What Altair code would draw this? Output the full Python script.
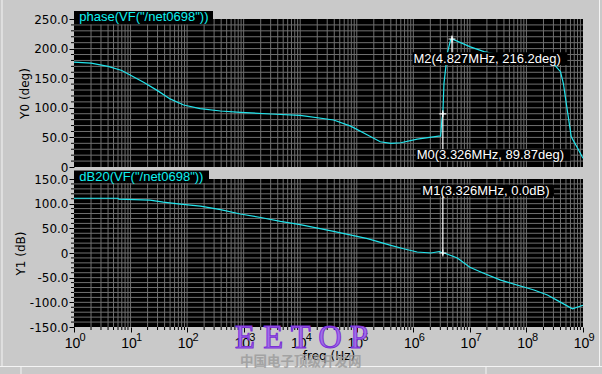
import altair as alt
import pandas as pd

# ---------------- data ----------------
phase_freq = [1, 2, 4, 7, 10, 17, 30, 50, 87, 170, 390, 880, 3.0e3, 1.0e4, 3.9e4,
              7.8e4, 1.55e5, 2.6e5, 4.0e5, 6.0e5, 1.17e6, 2.8e6, 3.04e6, 3.2e6, 3.326e6,
              3.48e6, 3.99e6, 4.57e6, 4.827e6, 1.02e7, 1.78e7, 5.0e7, 1.5e8, 3.1e8, 4.0e8,
              4.5e8, 5.2e8, 6.2e8, 7.0e8, 8.0e8, 1.0e9]
phase_deg = [177, 175.5, 170, 163, 155, 143, 129, 115, 104.7, 98.5, 94.6, 92.4, 89.5, 87.3, 79.4,
             69, 54, 42.7, 40, 41, 47, 52, 52, 80, 89.87,
             141, 192, 215, 216.2, 203, 195, 186, 178, 173, 161,
             141, 100, 51, 42, 32, 14.7]

db_freq = [1, 6.0, 6.2, 22, 38, 76, 172, 390, 870, 2.0e3, 4.47e3, 1.0e4, 3.9e4, 1.55e5, 4.0e5,
           6.7e5, 1.17e6, 2.04e6, 2.9e6, 3.326e6, 3.7e6, 6.0e6, 1.0e7, 1.67e7, 3.5e7,
           1.36e8, 2.35e8, 3.5e8, 6.5e8, 1.0e9]
db_val = [111, 111, 109.3, 107, 103, 99, 95, 88, 79, 72, 64, 57.5, 43.7, 29, 15.4,
          8.7, 2, 0, 3, 0, -1, -10, -29, -40, -55,
          -75, -85, -96, -113, -106]

marker_names = ["M0", "M2", "M1"]
marker_panel = ["phase", "phase", "db"]
marker_freq = [3.326e6, 4.827e6, 3.326e6]
marker_value = [89.87, 216.2, 0.0]
marker_label = ["M0(3.326MHz, 89.87deg)", "M2(4.827MHz, 216.2deg)", "M1(3.326MHz, 0.0dB)"]

panel_titles = ['phase(VF("/net0698"))', 'dB20(VF("/net0698"))']
y_titles = ["Y0 (deg)", "Y1 (dB)"]
x_title = "freq (Hz)"
phase_domain = [0, 250]
db_domain = [-150, 150]
phase_major = [0, 50, 100, 150, 200, 250]
db_major = [-150, -100, -50, 0, 50, 100, 150]
decades = [1, 10, 100, 1e3, 1e4, 1e5, 1e6, 1e7, 1e8, 1e9]
decade_exp = ["0", "1", "2", "3", "4", "5", "6", "7", "8", "9"]
watermark_latin = "E E T O P"
watermark_cjk = "中国电子顶级开发网"

# ---------------- layout / style ----------------
W, H = 509, 308
TOP_RANGE = [148, 0]
BOT_RANGE = [308, 160]
BG = "#c9c9c9"
GRID = "#707070"
TRACE = "#22e4ec"
TITLE_CYAN = "#10f0f0"
LBL_FONT = "DejaVu Sans"
TXT_FONT = "Liberation Sans"

MARK_STYLE = {
    "M0": dict(line=(-2, 36), box=(-27.2, 127.8, 35.5, 46.9), text=(-26.2, 45.2)),
    "M2": dict(line=(-2.5, 14), box=(-39.6, 115.4, 13.3, 26.0), text=(-38.6, 24.3)),
    "M1": dict(line=(-58.3, 2), box=(-22.2, 111.1, -68.3, -56.6), text=(-20.5, -58.3)),
}
TITLE_STYLE = [
    dict(box=(0, 139, -8, 5.3), text=(5.3, 2.3)),
    dict(box=(0, 135, -8.6, 4.0), text=(5.3, 1.7)),
]
# frame lines of the surrounding window, pixels relative to plot origin
FRAME_LINES = [(-72, -72, -19, 347.5), (-74, 528, 347.5, 347.5),
               (-53, -53, 347.5, 355), (412, 412, 347.5, 355), (525.5, 525.5, -19, 347.5)]
WM_POS = (161, 329.3)
CJK_POS = (166, 346.5)

xscale = alt.Scale(type="log", domain=[1, 1e9], nice=False)
x_minor = [m * 10 ** k for k in range(9) for m in range(2, 10)]
x_grid = [v for v in x_minor] + [d for d in decades[1:-1]]


def y_label_expr():
    return ("datum.value == 0 ? '0' : (datum.value < 0 ? '-' + format(-datum.value, '.1f') "
            ": format(datum.value, '.1f'))")


def panel(df_line, yfield, domain, yrange, major, ytitle, title_text, tstyle, mk_idx, xaxis):
    ymin, ymax = domain
    ys = alt.Scale(domain=domain, range=yrange, nice=False, zero=False)
    one = pd.DataFrame({"k": [0]})

    def Xd(v):
        return alt.XDatum(v, scale=xscale, type="quantitative", axis=None)

    def Yd(v):
        return alt.YDatum(v, scale=ys, type="quantitative", axis=None)

    xf = alt.X("f:Q", scale=xscale, axis=None)
    layers = []
    layers.append(alt.Chart(one).mark_rect(color="black").encode(
        x=Xd(1), x2=alt.X2Datum(1e9), y=Yd(ymin), y2=alt.Y2Datum(ymax)))
    hvals = [v for v in range(ymin + 10, ymax, 10)]
    layers.append(alt.Chart(pd.DataFrame({"v": hvals})).mark_rule(color=GRID, strokeWidth=1).encode(
        x=Xd(1), x2=alt.X2Datum(1e9), y=alt.Y("v:Q", scale=ys, axis=None)))
    layers.append(alt.Chart(pd.DataFrame({"f": x_grid})).mark_rule(color=GRID, strokeWidth=1).encode(
        x=xf, y=Yd(ymin), y2=alt.Y2Datum(ymax)))
    yminor = [v for v in range(ymin, ymax + 1, 10) if v % 50 != 0]
    layers.append(alt.Chart(pd.DataFrame({"v": yminor})).mark_rule(
        color="black", xOffset=-3, x2Offset=0).encode(
        x=Xd(1), x2=alt.X2Datum(1), y=alt.Y("v:Q", scale=ys, axis=None)))

    yaxis = alt.Axis(values=major, labelExpr=y_label_expr(), tickSize=5, tickColor="black",
                     tickWidth=1, domain=False, grid=False, labelFont=LBL_FONT, labelFontSize=12,
                     labelColor="black", labelPadding=1, labelOverlap=False, labelFlush=False,
                     labelBaseline="middle", title=ytitle, titleFont=LBL_FONT, titleFontSize=12,
                     titleFontWeight="normal", titleColor="black", titlePadding=2, orient="left")
    layers.append(alt.Chart(df_line).mark_line(color=TRACE, strokeWidth=1.2).encode(
        x=alt.X("f:Q", scale=xscale, axis=xaxis),
        y=alt.Y(f"{yfield}:Q", scale=ys, axis=yaxis)))

    for i in mk_idx:
        st = MARK_STYLE[marker_names[i]]
        df = pd.DataFrame({"f": [marker_freq[i]], "v": [marker_value[i]], "label": [marker_label[i]]})
        base = alt.Chart(df)
        yv = alt.Y("v:Q", scale=ys, axis=None)
        layers.append(base.mark_rule(color="white", strokeWidth=1.2, yOffset=st["line"][0],
                                     y2Offset=st["line"][1]).encode(x=xf, y=yv, y2="v:Q"))
        layers.append(base.mark_point(shape="M-1,0H1M0,-1V1", size=49, filled=False, color="white",
                                      strokeWidth=1.2, opacity=1).encode(x=xf, y=yv))
        b = st["box"]
        layers.append(base.mark_rect(color="black", xOffset=b[0], x2Offset=b[1], yOffset=b[2],
                                     y2Offset=b[3]).encode(x=xf, x2="f:Q", y=yv, y2="v:Q"))
        layers.append(base.mark_text(align="left", baseline="alphabetic", dx=st["text"][0],
                                     dy=st["text"][1], color="white", font=TXT_FONT,
                                     fontSize=13).encode(x=xf, y=yv, text="label:N"))

    tb = tstyle["box"]
    tdf = pd.DataFrame({"t": [title_text]})
    layers.append(alt.Chart(tdf).mark_rect(color="black", xOffset=tb[0], x2Offset=tb[1],
                                           yOffset=tb[2], y2Offset=tb[3]).encode(
        x=Xd(1), x2=alt.X2Datum(1), y=Yd(ymax), y2=alt.Y2Datum(ymax)))
    layers.append(alt.Chart(tdf).mark_text(align="left", baseline="alphabetic",
                                           dx=tstyle["text"][0], dy=tstyle["text"][1],
                                           color=TITLE_CYAN, font=TXT_FONT, fontSize=13).encode(
        x=Xd(1), y=Yd(ymax), text="t:N"))
    return layers, ys


df_phase = pd.DataFrame({"f": phase_freq, "deg": phase_deg})
df_db = pd.DataFrame({"f": db_freq, "db": db_val})

top_layers, ys_top = panel(df_phase, "deg", phase_domain, TOP_RANGE, phase_major, y_titles[0],
                           panel_titles[0], TITLE_STYLE[0], [0, 1], None)

xaxis = alt.Axis(values=decades, labelExpr="'10'", tickSize=5, tickColor="black", tickWidth=1,
                 domain=False, grid=False, labelFont=TXT_FONT, labelFontSize=14,
                 labelColor="black", labelBaseline="alphabetic", labelPadding=15,
                 labelOffset=-2, labelOverlap=False, labelFlush=False, title=x_title,
                 titleFont=LBL_FONT, titleFontSize=12, titleFontWeight="normal",
                 titleColor="black", titleBaseline="alphabetic", titleY=32, orient="bottom")
bot_layers, ys_bot = panel(df_db, "db", db_domain, BOT_RANGE, db_major, y_titles[1],
                           panel_titles[1], TITLE_STYLE[1], [2], xaxis)

# x-axis minor ticks and exponents of the decade labels
bot_layers.append(alt.Chart(pd.DataFrame({"f": x_minor})).mark_rule(color="black", y2Offset=3).encode(
    x=alt.X("f:Q", scale=xscale, axis=None),
    y=alt.YDatum(db_domain[0], scale=ys_bot, type="quantitative", axis=None),
    y2=alt.Y2Datum(db_domain[0])))
bot_layers.append(alt.Chart(pd.DataFrame({"f": decades, "e": decade_exp})).mark_text(
    align="left", baseline="alphabetic", dx=5.5, dy=13.5, font=TXT_FONT, fontSize=11,
    color="black").encode(
    x=alt.X("f:Q", scale=xscale, axis=None),
    y=alt.YDatum(db_domain[0], scale=ys_bot, type="quantitative", axis=None),
    text="e:N"))

one = pd.DataFrame({"k": [0]})
deco = []
for (x1, x2, y1, y2) in FRAME_LINES:
    deco.append(alt.Chart(one).mark_rule(color="#f4f4f4", strokeWidth=1).encode(
        x=alt.value(x1), x2=alt.value(x2), y=alt.value(y1), y2=alt.value(y2)))
deco.append(alt.Chart(one).mark_text(align="left", baseline="alphabetic", font="Liberation Serif",
                                     fontSize=32.7, fill="#a070e8", stroke="#7b2fd6",
                                     strokeWidth=1, text=watermark_latin).encode(
    x=alt.value(WM_POS[0]), y=alt.value(WM_POS[1])))
deco.append(alt.Chart(one).mark_text(align="left", baseline="alphabetic",
                                     font="Noto Sans CJK SC", fontSize=13.5, fontWeight="bold",
                                     color="#9a9a9a", opacity=0.8, text=watermark_cjk).encode(
    x=alt.value(CJK_POS[0]), y=alt.value(CJK_POS[1])))

top = alt.layer(*top_layers).resolve_axis(x="independent", y="independent")
bottom = alt.layer(*bot_layers).resolve_axis(x="independent", y="independent")
decor = alt.layer(*deco)

chart = alt.layer(top, bottom, decor).resolve_scale(y="independent").resolve_axis(
    x="independent", y="independent").properties(
    width=W, height=H,
    autosize=alt.AutoSizeParams(type="none"),
    padding={"left": 74, "top": 19, "right": 19, "bottom": 47},
    background=BG,
).configure_view(stroke=None)

chart.save("out.html", embed_options={"renderer": "svg", "actions": False})
